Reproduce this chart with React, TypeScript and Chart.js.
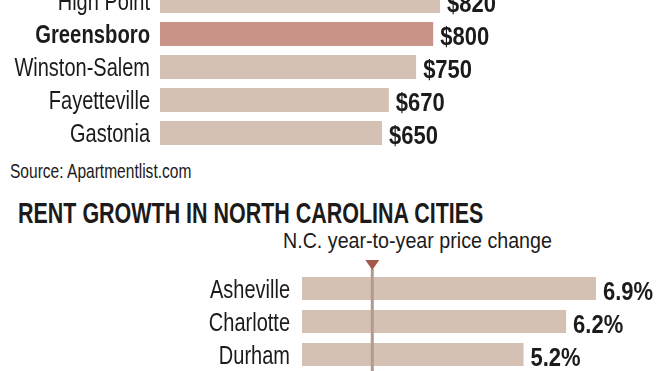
import React, { useEffect, useRef } from "react";
import { Chart, registerables } from "chart.js";

Chart.register(...registerables);

const rentCities = ["High Point", "Greensboro", "Winston-Salem", "Fayetteville", "Gastonia"];
const rentValues = [820, 800, 750, 670, 650];
const highlightCity = "Greensboro";

const growthCities = ["Asheville", "Charlotte", "Durham"];
const growthValues = [6.9, 6.2, 5.2];
const ncAverageChange = 1.65;

const sourceText = "Source: Apartmentlist.com";
const growthTitle = "RENT GROWTH IN NORTH CAROLINA CITIES";
const growthSubtitle = "N.C. year-to-year price change";

const FONT = "'Liberation Sans', Arial, sans-serif";
const BAR = "#d5c1b3";
const BAR_HI = "#c99488";
const TEXT = "#1c1a1a";

// Category labels + value labels, drawn with the chart's own scales, in a condensed (horizontally scaled) face
function barTexts(opts: {
  labels: string[];
  fmt: (v: number) => string;
  bold?: (label: string) => boolean;
  labelGap: number;
}) {
  return {
    id: "barTexts",
    afterDatasetsDraw(chart: any) {
      const ctx = chart.ctx;
      const meta = chart.getDatasetMeta(0);
      const data = chart.data.datasets[0].data as number[];
      const yScale = chart.scales.y;
      const left = chart.chartArea.left;
      ctx.save();
      ctx.fillStyle = TEXT;
      ctx.textBaseline = "alphabetic";
      opts.labels.forEach((label, i) => {
        const y = yScale.getPixelForValue(i);
        const isBold = opts.bold ? opts.bold(label) : false;
        ctx.save();
        ctx.font = `${isBold ? "bold " : ""}25px ${FONT}`;
        ctx.textAlign = "right";
        ctx.translate(left - opts.labelGap, y + 9);
        ctx.scale(isBold ? 0.81 : 0.8, 1);
        ctx.fillText(label, 0, 0);
        ctx.restore();
      });
      meta.data.forEach((el: any, i: number) => {
        ctx.save();
        ctx.font = `bold 25px ${FONT}`;
        ctx.textAlign = "left";
        ctx.translate(el.x + 7, el.y + 11);
        ctx.scale(0.88, 1);
        ctx.fillText(opts.fmt(data[i]), 0, 0);
        ctx.restore();
      });
      ctx.restore();
    },
  };
}

const avgMarker = {
  id: "avgMarker",
  afterDatasetsDraw(chart: any) {
    const ctx = chart.ctx;
    const x = chart.scales.x.getPixelForValue(ncAverageChange);
    const top = chart.chartArea.top;
    ctx.save();
    ctx.strokeStyle = "#b39a8f";
    ctx.lineWidth = 3;
    ctx.beginPath();
    ctx.moveTo(x, top - 3);
    ctx.lineTo(x, chart.height);
    ctx.stroke();
    ctx.fillStyle = "#a35a4c";
    ctx.beginPath();
    ctx.moveTo(x - 7, top - 12);
    ctx.lineTo(x + 7, top - 12);
    ctx.lineTo(x, top - 2);
    ctx.closePath();
    ctx.fill();
    ctx.restore();
  },
};

function RentChart() {
  const ref = useRef<HTMLCanvasElement>(null);
  useEffect(() => {
    const chart = new Chart(ref.current!, {
      type: "bar",
      data: {
        labels: rentCities,
        datasets: [
          {
            data: rentValues,
            backgroundColor: rentCities.map((c) => (c === highlightCity ? BAR_HI : BAR)),
            barPercentage: 0.73,
            categoryPercentage: 1,
          },
        ],
      },
      options: {
        indexAxis: "y",
        responsive: false,
        animation: false,
        layout: { padding: { top: 4.5, bottom: 5.5, left: 160, right: 158.5 } },
        plugins: { legend: { display: false }, tooltip: { enabled: false } },
        scales: {
          x: { min: 0, max: 1000, display: false },
          y: { display: false },
        },
      },
      plugins: [
        barTexts({
          labels: rentCities,
          fmt: (v) => `$${v}`,
          bold: (l) => l === highlightCity,
          labelGap: 10,
        }),
      ],
    });
    return () => chart.destroy();
  }, []);
  return (
    <canvas
      ref={ref}
      width={660}
      height={175}
      style={{ position: "absolute", left: 0, top: -20, width: 660, height: 175 }}
    />
  );
}

function GrowthChart() {
  const ref = useRef<HTMLCanvasElement>(null);
  useEffect(() => {
    const chart = new Chart(ref.current!, {
      type: "bar",
      data: {
        labels: growthCities,
        datasets: [
          {
            data: growthValues,
            backgroundColor: BAR,
            barPercentage: 0.7,
            categoryPercentage: 1,
          },
        ],
      },
      options: {
        indexAxis: "y",
        responsive: false,
        animation: false,
        layout: { padding: { top: 22, bottom: 0, left: 302, right: 17.2 } },
        plugins: { legend: { display: false }, tooltip: { enabled: false } },
        scales: {
          x: { min: 0, max: 8, display: false },
          y: { display: false },
        },
      },
      plugins: [
        barTexts({ labels: growthCities, fmt: (v) => `${v.toFixed(1)}%`, labelGap: 12 }),
        avgMarker,
      ],
    });
    return () => chart.destroy();
  }, []);
  return (
    <canvas
      ref={ref}
      width={660}
      height={121}
      style={{ position: "absolute", left: 0, top: 250, width: 660, height: 121 }}
    />
  );
}

const textBase: React.CSSProperties = {
  position: "absolute",
  whiteSpace: "nowrap",
  transformOrigin: "left top",
};

export default function App() {
  return (
    <div
      style={{
        position: "fixed",
        left: 0,
        top: 0,
        width: 660,
        height: 371,
        overflow: "hidden",
        background: "#fff",
        fontFamily: FONT,
        color: TEXT,
      }}
    >
      <RentChart />
      <div
        style={{
          ...textBase,
          left: 10,
          top: 160.2,
          fontSize: 21,
          lineHeight: "21px",
          transform: "scaleX(0.74)",
        }}
      >
        {sourceText}
      </div>
      <div
        style={{
          ...textBase,
          left: 18,
          top: 198.5,
          fontSize: 29,
          lineHeight: "29px",
          fontWeight: "bold",
          transform: "scaleX(0.74)",
        }}
      >
        {growthTitle}
      </div>
      <div
        style={{
          ...textBase,
          left: 283,
          top: 230.4,
          fontSize: 22,
          lineHeight: "22px",
          transform: "scaleX(0.894)",
        }}
      >
        {growthSubtitle}
      </div>
      <GrowthChart />
    </div>
  );
}
